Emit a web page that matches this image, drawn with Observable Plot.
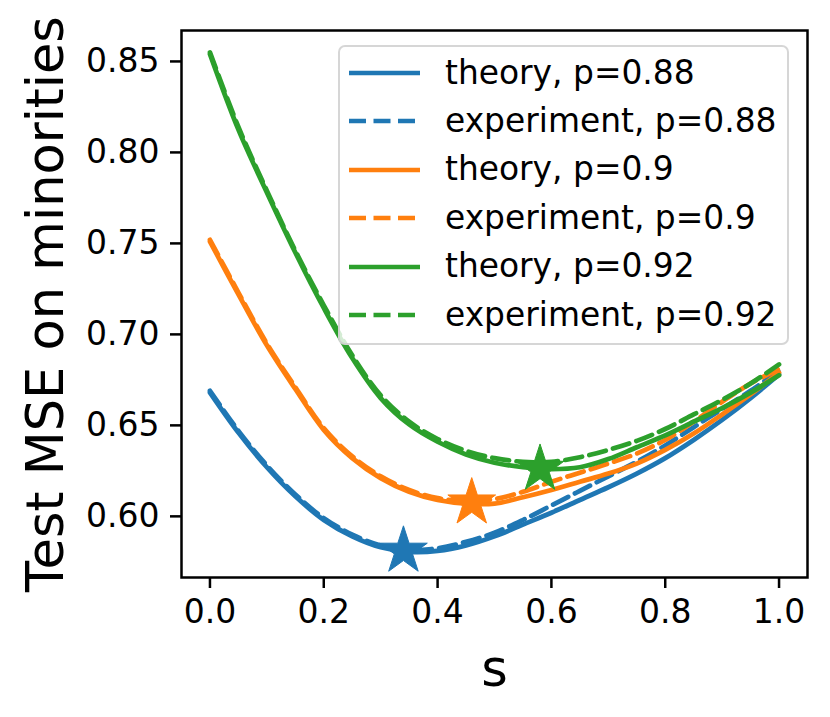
<!DOCTYPE html>
<html><head><meta charset="utf-8">
<script src="https://cdn.jsdelivr.net/npm/d3@7"></script>
<script src="https://cdn.jsdelivr.net/npm/@observablehq/plot@0.6"></script>
<style>
body{margin:0;background:#fff;}
#wrap{position:relative;width:830px;height:717px;font-family:"DejaVu Sans";}
#legend{position:absolute;left:338px;top:45px;width:451px;height:300px;box-sizing:border-box;
  border:2.5px solid rgba(204,204,204,0.8);border-radius:7px;background:rgba(255,255,255,0.8);}
.row{position:absolute;left:0;height:48px;display:flex;align-items:center;}
.row svg{margin-left:9px;}
.row span{margin-left:25px;font-size:32.9px;line-height:1;color:#000;white-space:nowrap;}
</style></head><body><div id="wrap"></div>
<script>
// ---- data ----
const sGrid = [0.00,0.05,0.10,0.15,0.20,0.25,0.30,0.35,0.40,0.45,0.50,0.55,0.60,0.65,0.70,0.75,0.80,0.85,0.90,0.95,1.00];
const theory088 = [0.668,0.646,0.627,0.611,0.598,0.589,0.583,0.5805,0.581,0.584,0.589,0.5955,0.602,0.609,0.616,0.6235,0.632,0.642,0.653,0.665,0.678];
const exp088    = [0.669,0.647,0.628,0.612,0.599,0.590,0.584,0.5815,0.5825,0.586,0.591,0.598,0.606,0.614,0.622,0.630,0.639,0.649,0.659,0.669,0.680];
const theory090 = [0.751,0.722,0.694,0.670,0.6475,0.632,0.621,0.6135,0.609,0.607,0.607,0.6105,0.6145,0.619,0.6235,0.629,0.6365,0.6455,0.656,0.667,0.679];
const exp090    = [0.752,0.723,0.695,0.671,0.6485,0.633,0.622,0.6145,0.610,0.6085,0.6095,0.6135,0.619,0.624,0.629,0.6345,0.642,0.652,0.663,0.673,0.681];
const theory092 = [0.854,0.8125,0.778,0.745,0.7145,0.687,0.665,0.6505,0.641,0.634,0.6295,0.627,0.626,0.627,0.6315,0.638,0.6445,0.652,0.6595,0.668,0.6775];
const exp092    = [0.855,0.814,0.779,0.746,0.716,0.6885,0.6665,0.652,0.6425,0.636,0.632,0.630,0.630,0.6325,0.6365,0.6415,0.648,0.656,0.664,0.673,0.6835];
const pLabels = ["0.88","0.9","0.92"];
const optS   = [0.34, 0.46, 0.58];
const optMSE = [0.581, 0.6075, 0.626];
const xTicks = [0.0,0.2,0.4,0.6,0.8,1.0];
const yTicks = [0.60,0.65,0.70,0.75,0.80,0.85];
const colors = ["#1f77b4","#ff7f0e","#2ca02c"];
const theories = [theory088, theory090, theory092];
const experiments = [exp088, exp090, exp092];

const LW = 4.7, DASH = "17,7.5";
const marks = [];
theories.forEach((th, i) => {
  marks.push(Plot.line(sGrid, {x: sGrid, y: th, stroke: colors[i], strokeWidth: LW, curve: "catmull-rom"}));
  marks.push(Plot.line(sGrid, {x: sGrid, y: experiments[i], stroke: colors[i], strokeWidth: LW, strokeDasharray: DASH, curve: "catmull-rom"}));
});
optS.forEach((s, i) => {
  marks.push(Plot.dot([s], {x: [s], y: [optMSE[i]], symbol: "star", r: 15, fill: colors[i], stroke: colors[i], strokeWidth: 1}));
});

const chart = Plot.plot({
  width: 830, height: 717,
  marginLeft: 181, marginRight: 23, marginTop: 30, marginBottom: 140,
  style: {fontFamily: "DejaVu Sans", fontSize: "33px", color: "#000", background: "#fff"},
  x: {domain: [-0.05, 1.05]},
  y: {domain: [0.5664, 0.8670]},
  marks: [
    ...marks,
    Plot.frame({stroke: "#000", strokeWidth: 2.5}),
    Plot.axisX({ticks: xTicks, tickFormat: d3.format(".1f"), tickSize: 11, tickPadding: 11, strokeWidth: 2.5, fontSize: 33, label: null}),
    Plot.axisY({ticks: yTicks, tickFormat: d3.format(".2f"), tickSize: 11, tickPadding: 11, strokeWidth: 2.5, fontSize: 33, label: null}),
    Plot.text(["Test MSE on minorities"], {frameAnchor: "left", dx: -135, rotate: -90, fontSize: 51, textAnchor: "middle", lineAnchor: "middle"}),
    Plot.text(["s"], {frameAnchor: "bottom", dy: 92, fontSize: 51, textAnchor: "middle", lineAnchor: "middle"})
  ]
});
const wrap = document.getElementById("wrap");
wrap.appendChild(chart);

// legend
const legend = document.createElement("div");
legend.id = "legend";
const entries = [];
pLabels.forEach((p, i) => {
  entries.push({label: `theory, p=${p}`, color: colors[i], dash: null});
  entries.push({label: `experiment, p=${p}`, color: colors[i], dash: DASH});
});
entries.forEach((e, i) => {
  const row = document.createElement("div");
  row.className = "row";
  row.style.top = (2 + i * 48.45) + "px";
  row.innerHTML = `<svg width="71" height="12"><line x1="0" y1="6" x2="71" y2="6" stroke="${e.color}" stroke-width="${LW}" ${e.dash ? `stroke-dasharray="${e.dash}"` : ""}/></svg><span>${e.label}</span>`;
  legend.appendChild(row);
});
wrap.appendChild(legend);
</script>
</body></html>
